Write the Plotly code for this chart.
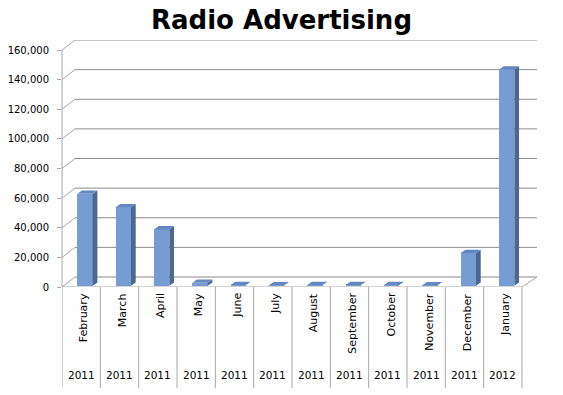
import plotly.graph_objects as go

# ---- data ----
months = ["February", "March", "April", "May", "June", "July", "August",
          "September", "October", "November", "December", "January"]
years = ["2011"] * 11 + ["2012"]
values = [62000, 53000, 38000, 2000, 400, 300, 400, 500, 400, 300, 22000, 146000]
y_ticks = [0, 20000, 40000, 60000, 80000, 100000, 120000, 140000, 160000]

# ---- geometry (pixels) ----
W, H = 563, 395
L, R, T, B = 62, 26, 40, 108
plot_w = W - L - R            # 475
plot_h = H - T - B            # 247
ppu = 237 / 160000            # px per value unit
cat_px = 460 / 12             # px per category (front)
depth_px_x, depth_px_y = 13, 10
ymax = plot_h / ppu
xmin = -0.5
xmax = xmin + plot_w / cat_px

def px_to_xu(px):
    return px / cat_px

def px_to_yu(px):
    return px / ppu

n = len(values)
bar_w = 0.4
x_off = 0.1
base = px_to_yu(1.3)
side_dx = px_to_xu(4.7)
side_dy = px_to_yu(3.3)

front_c = "#769DD3"
side_c = "#4A6891"
top_c = "#6387C0"
grid_c = "#8C8C8C"
axis_c = "#A6A6A6"

fig = go.Figure()

# front faces
xs = [i + x_off for i in range(n)]
fig.add_trace(go.Bar(x=xs, y=values, base=base, width=bar_w,
                     marker=dict(color=front_c, line=dict(width=0)),
                     hoverinfo="skip", showlegend=False))

# side faces & top faces
sx, sy, tx, ty = [], [], [], []
for xc, v in zip(xs, values):
    xl, xr = xc - bar_w / 2, xc + bar_w / 2
    top = base + v
    sx += [xr, xr + side_dx, xr + side_dx, xr, xr, None]
    sy += [base, base + side_dy, top + side_dy, top, base, None]
    tx += [xl, xr, xr + side_dx, xl + side_dx, xl, None]
    ty += [top, top, top + side_dy, top + side_dy, top, None]
fig.add_trace(go.Scatter(x=sx, y=sy, fill="toself", fillcolor=side_c, mode="lines",
                         line=dict(width=0, color=side_c), hoverinfo="skip", showlegend=False))
fig.add_trace(go.Scatter(x=tx, y=ty, fill="toself", fillcolor=top_c, mode="lines",
                         line=dict(width=0, color=top_c), hoverinfo="skip", showlegend=False))

shapes = []
back_dy = px_to_yu(depth_px_y)
back_x0 = depth_px_x / plot_w
# back wall gridlines + diagonal connectors
for v in y_ticks:
    shapes.append(dict(type="line", xref="paper", yref="y", x0=back_x0, x1=1,
                       y0=v + back_dy, y1=v + back_dy, line=dict(color=grid_c, width=1), layer="below"))
    shapes.append(dict(type="line", xref="paper", yref="y", x0=0, x1=back_x0,
                       y0=v, y1=v + back_dy, line=dict(color=axis_c, width=1), layer="below"))
# front vertical axis
shapes.append(dict(type="line", xref="paper", yref="y", x0=0, x1=0, y0=0, y1=y_ticks[-1],
                   line=dict(color=axis_c, width=1)))
# floor front edge and right diagonal
shapes.append(dict(type="line", xref="x", yref="y", x0=-0.5, x1=n - 0.5, y0=0, y1=0,
                   line=dict(color=axis_c, width=1)))
shapes.append(dict(type="line", xref="x", yref="y", x0=n - 0.5, x1=n - 0.5 + px_to_xu(15),
                   y0=0, y1=back_dy, line=dict(color=axis_c, width=1)))
# category table separators
table_bottom = -(388 - (H - B)) / plot_h
for k in range(n + 1):
    shapes.append(dict(type="line", xref="x", yref="paper", x0=k - 0.5, x1=k - 0.5,
                       y0=0, y1=table_bottom, line=dict(color=axis_c, width=1)))

annotations = []
month_top = -(291 - (H - B)) / plot_h
year_y = -(375 - (H - B)) / plot_h
for i, (m, yr) in enumerate(zip(months, years)):
    annotations.append(dict(x=i + 0.07, y=month_top, xref="x", yref="paper", text=m,
                            textangle=-90, showarrow=False, xanchor="center", yanchor="top",
                            font=dict(family="DejaVu Sans", size=11, color="black")))
    annotations.append(dict(x=i, y=year_y, xref="x", yref="paper", text=yr,
                            showarrow=False, xanchor="center", yanchor="middle",
                            font=dict(family="DejaVu Sans", size=10.5, color="black")))

fig.update_layout(
    width=W, height=H,
    margin=dict(l=L, r=R, t=T, b=B, pad=0, autoexpand=False),
    paper_bgcolor="white", plot_bgcolor="white",
    title=dict(text="Radio Advertising", x=0.5, xanchor="center", y=1 - 20 / H, yanchor="middle",
               font=dict(family="DejaVu Sans", size=26, color="black", weight=700)),
    xaxis=dict(range=[xmin, xmax], showgrid=False, zeroline=False, showticklabels=False,
               showline=False, ticks="", fixedrange=True, automargin=False),
    yaxis=dict(range=[0, ymax], showgrid=False, zeroline=False, showline=False,
               tickvals=y_ticks, tickformat=",", ticks="outside", ticklen=4, tickcolor=axis_c,
               ticklabelstandoff=6, automargin=False,
               tickfont=dict(family="DejaVu Sans", size=10, color="black")),
    shapes=shapes, annotations=annotations, bargap=0, showlegend=False,
)

fig.write_html("out.html")
